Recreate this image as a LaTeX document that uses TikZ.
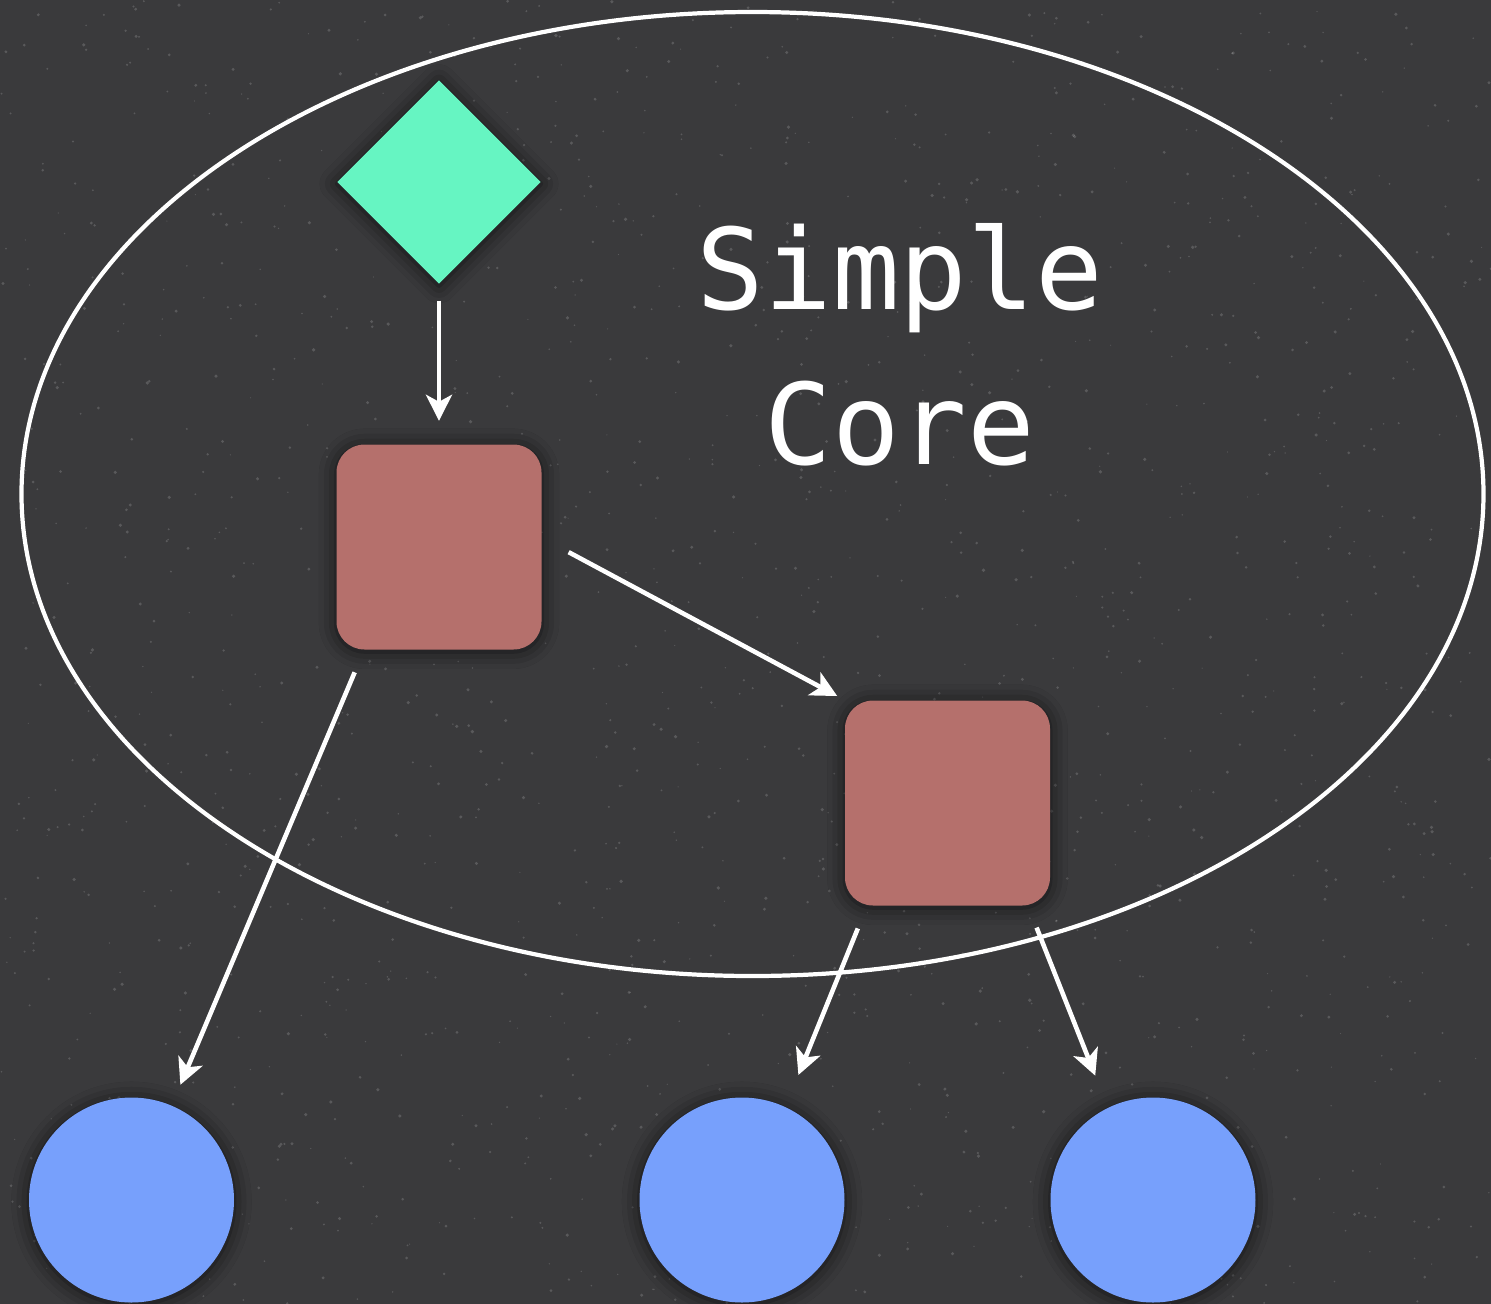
\documentclass[tikz,border=0pt]{standalone}
\usepackage{fontspec}
\newfontfamily\monofont{DejaVu Sans Mono}
\usetikzlibrary{arrows.meta}
\usetikzlibrary{shapes.geometric}
\usetikzlibrary{shadows.blur}
\definecolor{slate}{HTML}{3A3A3C}
\definecolor{mint}{HTML}{66F5C2}
\definecolor{rose}{HTML}{B5706C}
\definecolor{sky}{HTML}{77A0FC}
\tikzset{->,>={Stealth[length=0.26cm,width=0.26cm,inset=0.07cm]},node distance=3.65cm,
  lift/.style={blur shadow={shadow xshift=0pt,shadow yshift=-0.5pt,shadow blur radius=5pt,shadow opacity=70}},
  entry/.style={diamond,fill=mint,minimum width=2.04cm,minimum height=2.04cm,inner sep=0pt,lift},
  box/.style={rectangle,rounded corners=0.28cm,fill=rose,minimum size=2.05cm,inner sep=0pt,lift},
  leaf/.style={circle,fill=sky,minimum size=2.05cm,inner sep=0pt,lift},
  wire/.style={white,line width=1.3pt}}

\begin{document}
\begin{tikzpicture}
        \useasboundingbox (0,0) rectangle (14.91,-13.04);
        \fill[slate] (0,0) rectangle (14.91,-13.04);
        % grainy backdrop
        \pgfmathsetseed{7}
        \foreach \i in {1,...,1600}
            \fill[white,opacity=0.16] (14.91*rnd,-13.04*rnd) circle (0.006+0.012*rnd);
        \node[ellipse,draw=white,line width=1.2pt,minimum width=14.62cm,minimum height=9.64cm] (core) at (7.525,-4.94) {};
        \node[white,font=\monofont\fontsize{32}{44}\selectfont,align=center] (title) at (9.0,-3.45) {Simple\\Core};
        \node[entry] (in) at (4.39,-1.82) {};
        \node[box, below of=in] (a) {};
        \node[box] (b) at (9.475,-8.03) {};
        \node[leaf] (l1) at (1.315,-12.0) {};
        \node[leaf] (l2) at (7.42,-12.0) {};
        \node[leaf, right of=l2, node distance=4.11cm] (l3) {};
        \draw[wire,shorten <=0.16cm,shorten >=0.23cm] (in) -- (a);
        \draw[wire,shorten <=0.3cm,shorten >=0.08cm] (a.5) -- (b.north west);
        \draw[wire,shorten <=0.24cm,shorten >=0.22cm] (a.-126) -- (l1.67);
        \draw[wire,shorten <=0.24cm,shorten >=0.34cm] (b.-128) -- (l2.65);
        \draw[wire,shorten <=0.23cm,shorten >=0.34cm] (b.-52) -- (l3.116);
    \end{tikzpicture}
\end{document}
